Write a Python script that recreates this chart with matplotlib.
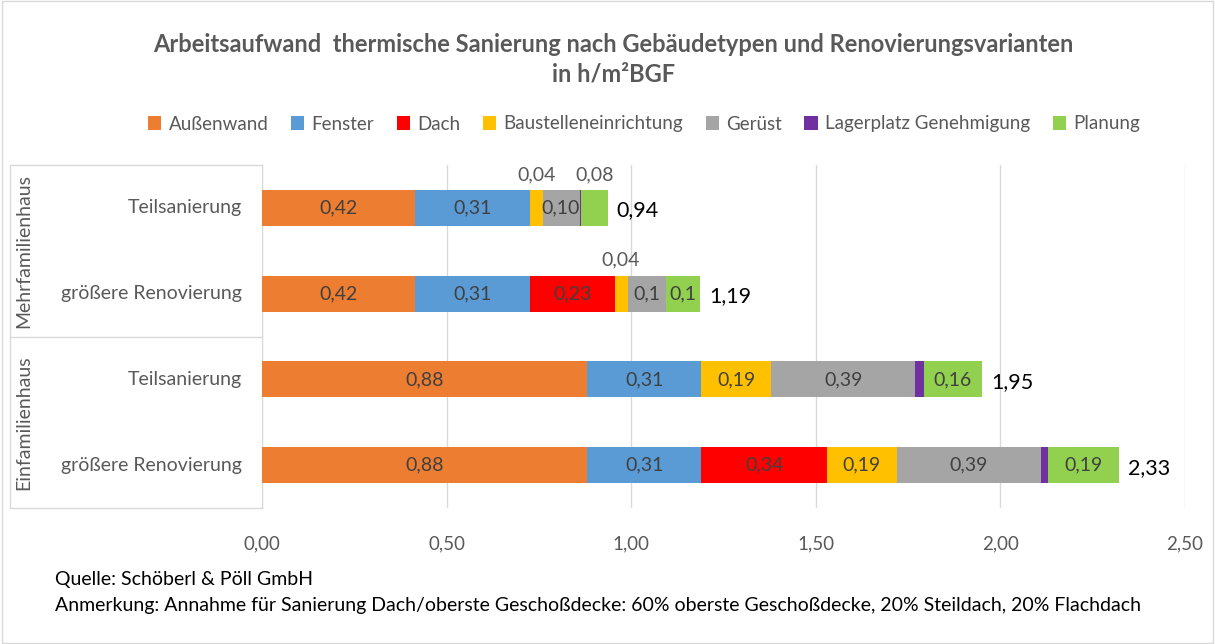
import matplotlib.pyplot as plt
import numpy as np
from matplotlib.ticker import FuncFormatter

plt.rcParams['font.family'] = ['Lato', 'DejaVu Sans']

# rows, top to bottom
rows = ["Teilsanierung", "größere Renovierung", "Teilsanierung", "größere Renovierung"]
groups = ["Mehrfamilienhaus", "Einfamilienhaus"]

series = ["Außenwand", "Fenster", "Dach", "Baustelleneinrichtung", "Gerüst",
          "Lagerplatz Genehmigung", "Planung"]
colors = ["#ED7D31", "#5B9BD5", "#FF0000", "#FFC000", "#A5A5A5", "#7030A0", "#92D050"]

aussenwand = [0.415, 0.415, 0.88, 0.88]
fenster = [0.31, 0.31, 0.31, 0.31]
dach = [0.0, 0.23, 0.0, 0.34]
baustelle = [0.035, 0.035, 0.19, 0.19]
geruest = [0.10, 0.105, 0.39, 0.39]
lager = [0.004, 0.0, 0.024, 0.02]
planung = [0.072, 0.092, 0.155, 0.19]

lab_aussenwand = ["0,42", "0,42", "0,88", "0,88"]
lab_fenster = ["0,31", "0,31", "0,31", "0,31"]
lab_dach = [None, "0,23", None, "0,34"]
lab_baustelle = ["0,04", "0,04", "0,19", "0,19"]
lab_geruest = ["0,10", "0,1", "0,39", "0,39"]
lab_lager = [None, None, None, None]
lab_planung = ["0,08", "0,1", "0,16", "0,19"]

totals = ["0,94", "1,19", "1,95", "2,33"]

values = [aussenwand, fenster, dach, baustelle, geruest, lager, planung]
labels = [lab_aussenwand, lab_fenster, lab_dach, lab_baustelle, lab_geruest,
          lab_lager, lab_planung]

fig = plt.figure(figsize=(12.15, 6.44), dpi=100)
ax = fig.add_axes([262 / 1215, 1 - 508 / 644, 923 / 1215, 343 / 644])

y = np.arange(len(rows))
left = np.zeros(len(rows))
grey = "#595959"

for name, vals, labs, col in zip(series, values, labels, colors):
    vals = np.array(vals)
    ax.barh(y, vals, left=left, height=0.42, color=col, label=name, zorder=3)
    for i, (v, lab) in enumerate(zip(vals, labs)):
        if lab is None or v == 0:
            continue
        cx = left[i] + v / 2
        if v < 0.08:
            # small segments get their label above the bar
            ax.text(cx, y[i] - 0.29, lab, ha='center', va='bottom', fontsize=14,
                    color=grey, zorder=4)
        else:
            ax.text(cx, y[i], lab, ha='center', va='center', fontsize=14,
                    color="#404040", zorder=4)
    left += vals

for i, t in enumerate(totals):
    ax.text(left[i] + 0.025, y[i] + 0.03, t, ha='left', va='center', fontsize=15.5,
            color="black", zorder=4)

ax.set_xlim(0, 2.5)
ax.set_ylim(3.5, -0.5)
ax.set_xticks(np.arange(0, 2.51, 0.5))
ax.xaxis.set_major_formatter(FuncFormatter(lambda v, p: f"{v:.2f}".replace(".", ",")))
ax.tick_params(axis='x', length=0, labelsize=13.5, labelcolor=grey, pad=20)
ax.set_yticks([])
ax.grid(axis='x', color="#D9D9D9", linewidth=1, zorder=0)
for s in ["top", "right", "bottom"]:
    ax.spines[s].set_visible(False)
ax.spines["left"].set_color("#D9D9D9")

# category labels and group separators
for i, r in enumerate(rows):
    ax.text(-0.055, y[i], r, ha='right', va='center', fontsize=14, color=grey,
            clip_on=False)
for yy in [-0.5, 1.5, 3.5]:
    ax.plot([-0.683, 0], [yy, yy], color="#D9D9D9", linewidth=1, clip_on=False)
ax.plot([-0.683, -0.683], [-0.5, 3.5], color="#D9D9D9", linewidth=1, clip_on=False)
for gi, g in enumerate(groups):
    ax.text(-0.645, 0.5 + 2 * gi, g, rotation=90, ha='center', va='center',
            fontsize=14, color=grey, clip_on=False)

fig.text(0.505, 1 - 45 / 644, "Arbeitsaufwand  thermische Sanierung nach Gebäudetypen und Renovierungsvarianten",
         ha='center', va='center', fontsize=17, fontweight='bold', color=grey)
fig.text(0.505, 1 - 74 / 644, "in h/m²BGF", ha='center', va='center', fontsize=17,
         fontweight='bold', color=grey)

fig.legend(loc='center', bbox_to_anchor=(0.53, 1 - 124 / 644), ncol=7, frameon=False,
           fontsize=13.5, handlelength=0.7, handleheight=0.7, handletextpad=0.4,
           columnspacing=1.2, labelcolor=grey)

fig.text(55 / 1215, 1 - 580 / 644, "Quelle: Schöberl & Pöll GmbH", ha='left', va='center',
         fontsize=14, color="black")
fig.text(55 / 1215, 1 - 606 / 644,
         "Anmerkung: Annahme für Sanierung Dach/oberste Geschoßdecke: 60% oberste Geschoßdecke, 20% Steildach, 20% Flachdach",
         ha='left', va='center', fontsize=14, color="black")

# chart border
fig.add_artist(plt.Rectangle((0.002, 0.002), 0.996, 0.996, transform=fig.transFigure,
                             fill=False, edgecolor="#D9D9D9", linewidth=1))

fig.savefig("out.png", dpi=100)
